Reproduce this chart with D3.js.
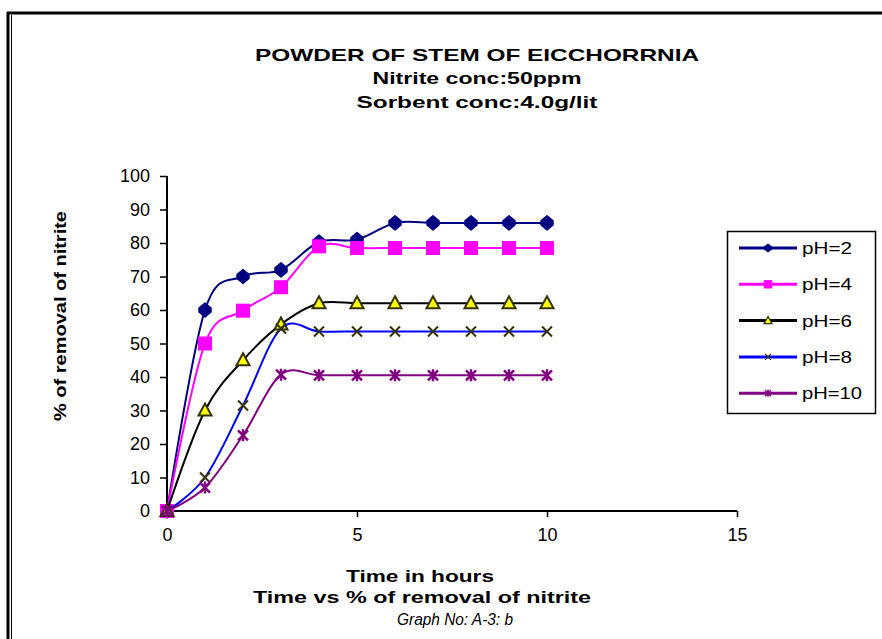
<!DOCTYPE html>
<html>
<head>
<meta charset="utf-8">
<script src="https://cdn.jsdelivr.net/npm/d3@7"></script>
<style>
  body { margin: 0; background: #fff; }
  text { font-family: "Liberation Sans", Arial, sans-serif; }
</style>
</head>
<body>
<div id="chart"></div>
<script>
// data
var hours = [0, 1, 2, 3, 4, 5, 6, 7, 8, 9, 10];
var ph2  = [0, 60, 70, 72, 80.3, 81, 86, 86, 86, 86, 86];
var ph4  = [0, 50, 59.8, 66.8, 79, 78.5, 78.5, 78.5, 78.5, 78.5, 78.5];
var ph6  = [0, 30, 45, 55.7, 62, 62, 62, 62, 62, 62, 62];
var ph8  = [0, 10, 31.5, 54.5, 53.6, 53.6, 53.6, 53.6, 53.6, 53.6, 53.6];
var ph10 = [0, 7, 22.6, 40.7, 40.5, 40.5, 40.5, 40.5, 40.5, 40.5, 40.5];
var seriesNames = ["pH=2", "pH=4", "pH=6", "pH=8", "pH=10"];
var xTicks = [0, 5, 10, 15];
var yTicks = [0, 10, 20, 30, 40, 50, 60, 70, 80, 90, 100];

var series = [
  {name: seriesNames[0], vals: ph2,  line: "#000080", marker: "diamond"},
  {name: seriesNames[1], vals: ph4,  line: "#ff00ff", marker: "square"},
  {name: seriesNames[2], vals: ph6,  line: "#000000", marker: "triangle"},
  {name: seriesNames[3], vals: ph8,  line: "#0000ff", marker: "x"},
  {name: seriesNames[4], vals: ph10, line: "#800080", marker: "star"}
];

var W = 882, H = 639;
var svg = d3.select("#chart").append("svg")
  .attr("width", W).attr("height", H);

// outer frame (top + double left line)
svg.append("line").attr("x1", 7).attr("x2", W).attr("y1", 13).attr("y2", 13)
  .attr("stroke", "#000").attr("stroke-width", 3);
svg.append("line").attr("x1", 8).attr("x2", 8).attr("y1", 12).attr("y2", H)
  .attr("stroke", "#000").attr("stroke-width", 3);
svg.append("line").attr("x1", 11.5).attr("x2", 11.5).attr("y1", 15).attr("y2", H)
  .attr("stroke", "#000").attr("stroke-width", 1);

// titles
var titles = [
  {t: "POWDER OF STEM OF EICCHORRNIA", y: 61, len: 444},
  {t: "Nitrite conc:50ppm", y: 84, len: 209},
  {t: "Sorbent conc:4.0g/lit", y: 108, len: 241}
];
svg.selectAll(".title").data(titles).enter().append("text")
  .attr("class", "title")
  .attr("x", 477).attr("y", d => d.y)
  .attr("text-anchor", "middle")
  .attr("textLength", d => d.len).attr("lengthAdjust", "spacingAndGlyphs")
  .style("font-size", "17px").style("font-weight", "bold")
  .text(d => d.t);

// scales
var x = d3.scaleLinear().domain([0, 15]).range([167, 737]);
var y = d3.scaleLinear().domain([0, 100]).range([511, 176]);

var g = svg.append("g");

// x axis
g.append("g")
  .attr("transform", "translate(0," + y(0) + ")")
  .call(d3.axisBottom(x).tickValues(xTicks).tickSize(6).tickPadding(11).tickFormat(d3.format("d")))
  .call(a => a.select(".domain").attr("stroke-width", 2).attr("d", "M" + x(0) + ",0H" + x(15)))
  .call(a => a.selectAll(".tick line").attr("stroke-width", 1.5))
  .call(a => a.selectAll("text").style("font-size", "18px").attr("fill", "#000")
    .style("font-family", "Liberation Sans, Arial, sans-serif"));

// y axis
g.append("g")
  .attr("transform", "translate(" + x(0) + ",0)")
  .call(d3.axisLeft(y).tickValues(yTicks).tickSize(7).tickPadding(10))
  .call(a => a.select(".domain").attr("stroke-width", 2).attr("d", "M0," + y(0) + "V" + y(100)))
  .call(a => a.selectAll(".tick line").attr("stroke-width", 1.5))
  .call(a => a.selectAll("text").style("font-size", "18px").attr("fill", "#000")
    .style("font-family", "Liberation Sans, Arial, sans-serif"));

// axis titles
svg.append("text")
  .attr("transform", "translate(66,316) rotate(-90)")
  .attr("text-anchor", "middle")
  .attr("textLength", 210).attr("lengthAdjust", "spacingAndGlyphs")
  .style("font-size", "16px").style("font-weight", "bold")
  .text("% of removal of nitrite");

svg.append("text").attr("x", 420).attr("y", 582)
  .attr("text-anchor", "middle")
  .attr("textLength", 148).attr("lengthAdjust", "spacingAndGlyphs")
  .style("font-size", "16px").style("font-weight", "bold")
  .text("Time in hours");
svg.append("text").attr("x", 422).attr("y", 603)
  .attr("text-anchor", "middle")
  .attr("textLength", 338).attr("lengthAdjust", "spacingAndGlyphs")
  .style("font-size", "16px").style("font-weight", "bold")
  .text("Time vs % of removal of nitrite");
svg.append("text").attr("x", 455).attr("y", 625)
  .attr("text-anchor", "middle")
  .attr("textLength", 116).attr("lengthAdjust", "spacingAndGlyphs")
  .style("font-size", "16px").style("font-style", "italic")
  .text("Graph No: A-3: b");

// line generator (Excel-like smoothing)
var line = d3.line()
  .x(d => x(d[0]))
  .y(d => y(d[1]))
  .curve(d3.curveCatmullRom.alpha(0));

function drawMarker(sel, kind) {
  if (kind === "diamond") {
    sel.append("path").attr("d", "M0,-7 L6,-2 L6,2 L0,7 L-6,2 L-6,-2Z")
      .attr("fill", "#000080").attr("stroke", "#000080").attr("stroke-width", 1.5)
      .attr("stroke-linejoin", "round");
  } else if (kind === "square") {
    sel.append("rect").attr("x", -7).attr("y", -7).attr("width", 14).attr("height", 14)
      .attr("fill", "#ff00ff");
  } else if (kind === "triangle") {
    sel.append("path").attr("d", "M0,-7 L6.5,5 L-6.5,5Z")
      .attr("fill", "#ffff00").attr("stroke", "#333300").attr("stroke-width", 2);
  } else if (kind === "x") {
    sel.append("path").attr("d", "M-5,-5L5,5M-5,5L5,-5")
      .attr("stroke", "#333300").attr("stroke-width", 2);
  } else if (kind === "star") {
    sel.append("path").attr("d", "M-5,-5L5,5M-5,5L5,-5M0,-6V6")
      .attr("stroke", "#800080").attr("stroke-width", 2.5);
  }
}

series.forEach(function(s) {
  var pts = hours.map((h, i) => [h, s.vals[i]]);
  g.append("path")
    .attr("d", line(pts))
    .attr("fill", "none")
    .attr("stroke", s.line)
    .attr("stroke-width", 2);
  g.selectAll(null).data(pts).enter().append("g")
    .attr("transform", d => "translate(" + x(d[0]) + "," + y(d[1]) + ")")
    .each(function() { drawMarker(d3.select(this), s.marker); });
});

// legend
var legend = svg.append("g");
legend.append("rect").attr("x", 727.5).attr("y", 231.5).attr("width", 148).attr("height", 182)
  .attr("fill", "#fff").attr("stroke", "#000").attr("stroke-width", 1.5);
var rows = legend.selectAll(".row").data(series).enter().append("g")
  .attr("transform", (d, i) => "translate(0," + (248 + i * 36.3) + ")");
rows.append("line").attr("x1", 739).attr("x2", 797).attr("y1", 0).attr("y2", 0)
  .attr("stroke", d => d.line).attr("stroke-width", 3);
rows.append("g").attr("transform", "translate(768,0) scale(0.6)")
  .each(function(d) { drawMarker(d3.select(this), d.marker); });
rows.append("text").attr("x", 802).attr("y", 6)
  .attr("textLength", d => d.name.length > 4 ? 60 : 50).attr("lengthAdjust", "spacingAndGlyphs")
  .style("font-size", "17px")
  .text(d => d.name);
</script>
</body>
</html>
